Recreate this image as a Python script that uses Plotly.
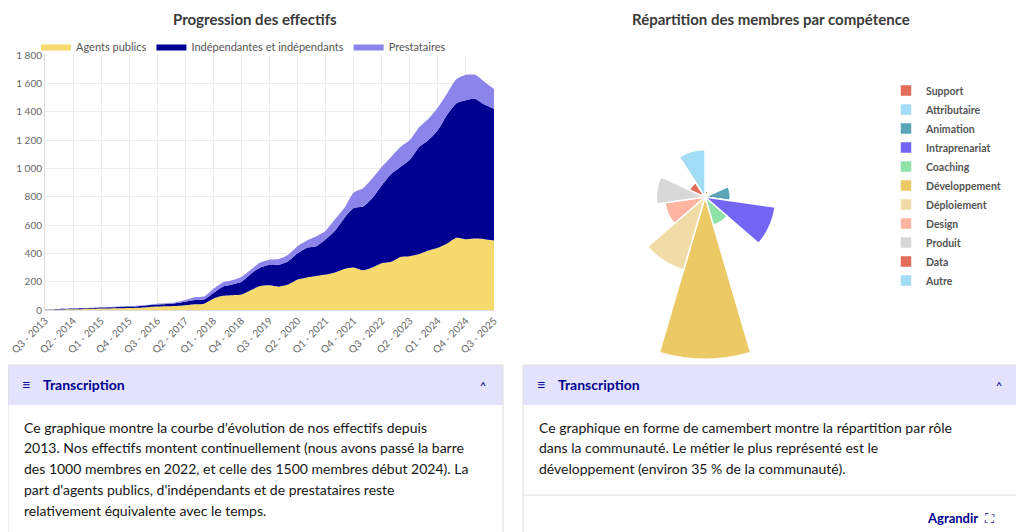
import numpy as np
import plotly.graph_objects as go

W, H = 1024, 532
OFF = 8  # page body margin
def px(x): return (x - OFF) / W
def py(y): return 1 - (y - OFF) / H

# ---- data: stacked area (cumulative tops) ----
top_agents = [2,3,4,5,6,8,10,11,12,14,16,20,24,26,28,33,40,45,80,100,105,110,140,170,175,165,180,215,230,240,250,265,290,300,280,300,330,340,375,380,395,420,440,470,510,500,505,500,490]
top_indep  = [4,6,8,10,12,14,18,20,22,24,27,33,38,42,48,58,70,75,120,165,180,200,255,300,320,320,345,400,440,450,500,560,650,720,730,790,880,960,1010,1060,1150,1200,1270,1380,1460,1480,1490,1450,1420]
top_prest  = [5,7,9,11,13,16,20,22,25,27,30,37,45,48,55,70,90,95,150,195,210,235,285,335,355,360,390,450,490,520,560,640,720,830,860,930,1010,1080,1150,1200,1290,1350,1430,1530,1630,1660,1660,1610,1560]
tick_labels = ["Q3 - 2013","Q2 - 2014","Q1 - 2015","Q4 - 2015","Q3 - 2016","Q2 - 2017","Q1 - 2018","Q4 - 2018","Q3 - 2019","Q2 - 2020","Q1 - 2021","Q4 - 2021","Q3 - 2022","Q2 - 2023","Q1 - 2024","Q4 - 2024","Q3 - 2025"]

agents = np.array(top_agents)
indep = np.array(top_indep) - agents
prest = np.array(top_prest) - np.array(top_indep)
xq = list(range(len(agents)))

# ---- data: polar area ----
roles = ["Support","Attributaire","Animation","Intraprenariat","Coaching","Développement","Déploiement","Design","Produit","Data","Autre"]
role_values = [6,1,25,70,29,160,75,40,48,17,47]
role_colors = ["#e06c5a","#a3ddf5","#5aa6b8","#7466f5","#8fe3a8","#ebc964","#f1dca7","#ffb5a0","#d8d8d8","#e06c5a","#a3ddf5"]

fig = go.Figure()
for name, vals, col in [("Agents publics", agents, "#f6da6e"),
                        ("Indépendantes et indépendants", indep, "#000091"),
                        ("Prestataires", prest, "#8b84ea")]:
    fig.add_trace(go.Scatter(x=xq, y=vals, name=name, stackgroup="a", mode="lines",
                             line=dict(width=0, color=col, shape="spline", smoothing=0.6),
                             fillcolor=col, legend="legend"))

step = 360 / len(roles)
for i, (r, v, c) in enumerate(zip(roles, role_values, role_colors)):
    fig.add_trace(go.Barpolar(r=[v], theta=[step * i + step / 2], width=[step], name=r,
                              marker=dict(color=c, line=dict(color="white", width=1.5)),
                              legend="legend2"))

cx, cy, R = 705, 197, 162
fig.update_layout(
    width=W, height=H, margin=dict(l=0, r=0, t=0, b=0, autoexpand=False),
    paper_bgcolor="white", plot_bgcolor="white",
    font=dict(family="Lato, Open Sans, sans-serif", color="#555", size=11),
    xaxis=dict(domain=[px(45), px(494)], range=[0, 48], tickmode="array", automargin=False,
               tickvals=list(range(0, 49, 3)), ticktext=tick_labels, tickangle=-45,
               showgrid=True, gridcolor="#ececec", zeroline=False, showline=True,
               linecolor="#ddd", tickfont=dict(size=10, color="#666")),
    yaxis=dict(domain=[py(310), py(55)], range=[0, 1800], tickvals=list(range(0, 1801, 200)), automargin=False,
               ticktext=["0","200","400","600","800","1 000","1 200","1 400","1 600","1 800"],
               showgrid=True, gridcolor="#ececec", zeroline=False, showline=True,
               linecolor="#ddd", tickfont=dict(size=10, color="#666")),
    legend=dict(orientation="h", x=px(36), y=py(32), xanchor="left", yanchor="top", traceorder="normal",
                font=dict(size=11, color="#555"), bgcolor="rgba(0,0,0,0)"),
    legend2=dict(x=px(886), y=py(76), xanchor="left", yanchor="top", tracegroupgap=0, traceorder="normal",
                 font=dict(size=10.5, color="#555", family="Lato, sans-serif", weight="bold"),
                 bgcolor="rgba(0,0,0,0)"),
    polar=dict(domain=dict(x=[px(cx - R), px(cx + R)], y=[py(cy + R), py(cy - R)]),
               bgcolor="rgba(0,0,0,0)", bargap=0,
               radialaxis=dict(range=[0, 160], visible=False),
               angularaxis=dict(visible=False, direction="clockwise", rotation=90)),
    showlegend=True,
)

ann = []
shapes = []
P = dict(xref="paper", yref="paper", showarrow=False)
ann.append(dict(text="<b>Progression des effectifs</b>", x=px(255), y=1, yanchor="top", xanchor="center",
                font=dict(size=15, color="#3a3a3a"), **P))
ann.append(dict(text="<b>Répartition des membres par compétence</b>", x=px(771), y=1, yanchor="top", xanchor="center",
                font=dict(size=15, color="#3a3a3a"), **P))

boxes = [(8, 503, ["Ce graphique montre la courbe d'évolution de nos effectifs depuis",
                   "2013. Nos effectifs montent continuellement (nous avons passé la barre",
                   "des 1000 membres en 2022, et celle des 1500 membres début 2024). La",
                   "part d'agents publics, d'indépendants et de prestataires reste",
                   "relativement équivalente avec le temps."]),
         (523, 1019, ["Ce graphique en forme de camembert montre la répartition par rôle",
                      "dans la communauté. Le métier le plus représenté est le",
                      "développement (environ 35 % de la communauté)."])]
for x0, x1, lines in boxes:
    shapes.append(dict(type="rect", xref="paper", yref="paper", x0=px(x0), x1=px(x1),
                       y0=py(405), y1=py(365), fillcolor="#e3e3fd", line=dict(width=0), layer="below"))
    shapes.append(dict(type="rect", xref="paper", yref="paper", x0=px(x0), x1=px(x1),
                       y0=py(545), y1=py(365), fillcolor="rgba(0,0,0,0)", line=dict(color="#dddddd", width=1)))
    ann.append(dict(text="≡", x=px(x0 + 18), y=py(384), xanchor="center", yanchor="middle",
                    font=dict(size=15, color="#000091"), **P))
    ann.append(dict(text="<b>Transcription</b>", x=px(x0 + 33), y=py(384), xanchor="left", yanchor="middle",
                    font=dict(size=14, color="#000091"), **P))
    ann.append(dict(text="˄", x=px(x1 - 20), y=py(387), xanchor="center", yanchor="middle",
                    font=dict(size=13, color="#000091"), **P))
    for j, t in enumerate(lines):
        yy = 427 + j * 20.8
        ann.append(dict(text=t, x=px(x0 + 14), y=py(yy), xanchor="left", yanchor="middle",
                        font=dict(size=14, color="#161616"), **P))
shapes.append(dict(type="line", xref="paper", yref="paper", x0=px(523), x1=px(1019),
                   y0=py(495), y1=py(495), line=dict(color="#dddddd", width=1)))
ann.append(dict(text="<b>Agrandir</b>  ⛶", x=px(997), y=py(518), xanchor="right", yanchor="middle",
                font=dict(size=13, color="#000091"), **P))
fig.update_layout(annotations=ann, shapes=shapes)

fig.write_html("out.html")
